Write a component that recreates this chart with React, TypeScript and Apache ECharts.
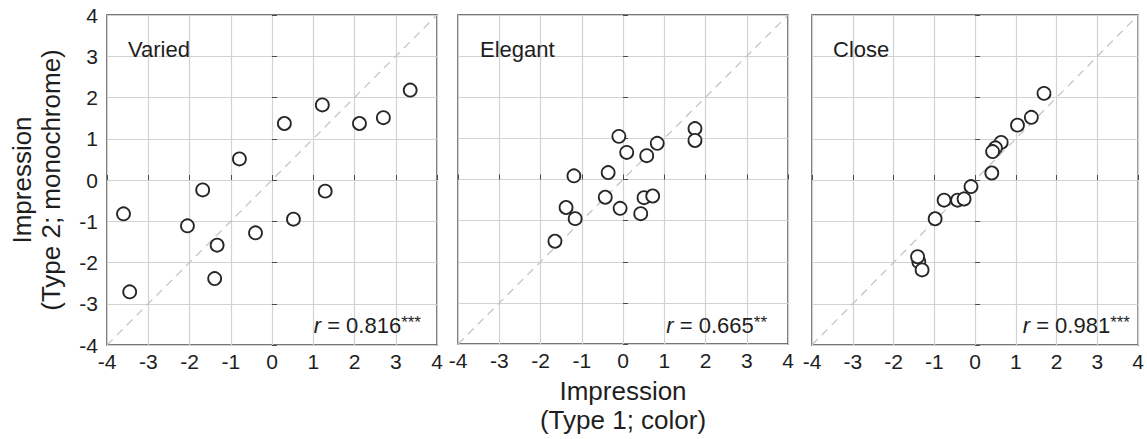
import React, { useEffect, useRef } from "react";
import * as echarts from "echarts";

const panelTitles = ["Varied", "Elegant", "Close"];
const rLabels = ["0.816", "0.665", "0.981"];
const rStars = ["***", "**", "***"];
const tickValues = [-4, -3, -2, -1, 0, 1, 2, 3, 4];

const xVaried = [-3.6, -3.45, -2.05, -1.68, -1.33, -1.39, -0.79, -0.4, 0.3, 0.52, 1.22, 1.29, 2.12, 2.7, 3.35];
const yVaried = [-0.82, -2.71, -1.11, -0.24, -1.58, -2.39, 0.51, -1.28, 1.37, -0.95, 1.82, -0.27, 1.37, 1.51, 2.18];

const xElegant = [1.745, 1.745, -0.1, 0.09, 0.83, 0.575, -1.19, -0.36, -0.43, -1.38, -0.07, 0.51, 0.72, 0.43, -1.16, -1.65];
const yElegant = [1.24, 0.95, 1.05, 0.66, 0.88, 0.58, 0.09, 0.17, -0.43, -0.68, -0.7, -0.44, -0.4, -0.83, -0.95, -1.5];

const xClose = [1.69, 1.38, 1.04, 0.64, 0.5, 0.43, 0.41, -0.1, -0.43, -0.27, -0.76, -0.98, -1.38, -1.41, -1.3];
const yClose = [2.1, 1.52, 1.33, 0.91, 0.78, 0.69, 0.17, -0.16, -0.49, -0.46, -0.49, -0.94, -1.98, -1.86, -2.18];

const xLists = [xVaried, xElegant, xClose];
const yLists = [yVaried, yElegant, yClose];

const FONT = "Liberation Sans, Arial, sans-serif";
const TEXT = "#1e1e1e";

export default function App() {
  const ref = useRef<HTMLDivElement>(null);
  useEffect(() => {
    if (!ref.current) return;
    const chart = echarts.init(ref.current, undefined, { renderer: "svg" });
    const lefts = [107, 458, 812];
    const top = 15;
    const size = 330;
    const grid = lefts.map((l) => ({
      left: l,
      top,
      width: size,
      height: size,
      show: true,
      borderColor: "#4a4a4a",
      borderWidth: 1.5,
      backgroundColor: "#fff",
    }));
    const axisCommon = {
      type: "value" as const,
      min: tickValues[0],
      max: tickValues[tickValues.length - 1],
      interval: 1,
      axisLine: { show: false },
      axisTick: { show: true, inside: true, length: 5, lineStyle: { color: "#4a4a4a", width: 1 } },
      splitLine: { show: true, lineStyle: { color: "#d2d2d2", width: 1.2 } },
    };
    const xAxis = lefts.map((_, i) => ({
      ...axisCommon,
      gridIndex: i,
      axisLabel: { fontSize: 21, color: TEXT, fontFamily: FONT, margin: 6 },
      name: i === 1 ? "Impression\n(Type 1; color)" : "",
      nameLocation: "middle",
      nameGap: 30,
      nameTextStyle: { fontSize: 26, color: TEXT, fontFamily: FONT, lineHeight: 29 },
    }));
    const yAxis = lefts.map((_, i) => ({
      ...axisCommon,
      gridIndex: i,
      axisLabel: { show: i === 0, fontSize: 21, color: TEXT, fontFamily: FONT, margin: 9 },
      name: i === 0 ? "Impression\n(Type 2; monochrome)" : "",
      nameLocation: "middle",
      nameRotate: 90,
      nameGap: 42,
      nameTextStyle: { fontSize: 26, color: TEXT, fontFamily: FONT, lineHeight: 29 },
    }));
    const series: any[] = [];
    lefts.forEach((_, i) => {
      series.push({
        type: "line",
        xAxisIndex: i,
        yAxisIndex: i,
        data: [
          [tickValues[0], tickValues[0]],
          [tickValues[tickValues.length - 1], tickValues[tickValues.length - 1]],
        ],
        symbol: "none",
        silent: true,
        lineStyle: { color: "#c4c4c4", width: 1.3, type: [8, 6] },
        z: 1,
      });
      series.push({
        type: "scatter",
        xAxisIndex: i,
        yAxisIndex: i,
        data: xLists[i].map((x, k) => [x, yLists[i][k]]),
        symbol: "circle",
        symbolSize: 13,
        itemStyle: { color: "#fff", borderColor: "#262626", borderWidth: 1.8, opacity: 1 },
        z: 3,
      });
    });
    const titleLeft = [128, 480, 833];
    const rRight = [421, 767, 1130];
    const graphic: any[] = [];
    panelTitles.forEach((t, i) => {
      graphic.push({
        type: "text",
        x: titleLeft[i],
        y: 49.5,
        z: 10,
        style: {
          text: t,
          fontSize: 22,
          fontFamily: FONT,
          fill: TEXT,
          align: "left",
          verticalAlign: "middle",
        },
      });
      graphic.push({
        type: "text",
        x: rRight[i],
        y: 325,
        z: 10,
        style: {
          text: `{i|r} = ${rLabels[i]}{s|${rStars[i]}}`,
          fontSize: 22,
          fontFamily: FONT,
          fill: TEXT,
          align: "right",
          verticalAlign: "middle",
          rich: {
            i: { fontStyle: "italic", fontSize: 22, fontFamily: FONT, fill: TEXT },
            s: { fontSize: 17, fontFamily: FONT, fill: TEXT, verticalAlign: "top" },
          },
        },
      });
    });
    chart.setOption({
      animation: false,
      backgroundColor: "#fff",
      grid,
      xAxis,
      yAxis,
      series,
      graphic,
    });
    return () => chart.dispose();
  }, []);
  return (
    <div
      ref={ref}
      style={{ position: "fixed", left: 0, top: 0, width: 1147, height: 439, background: "#fff" }}
    />
  );
}
